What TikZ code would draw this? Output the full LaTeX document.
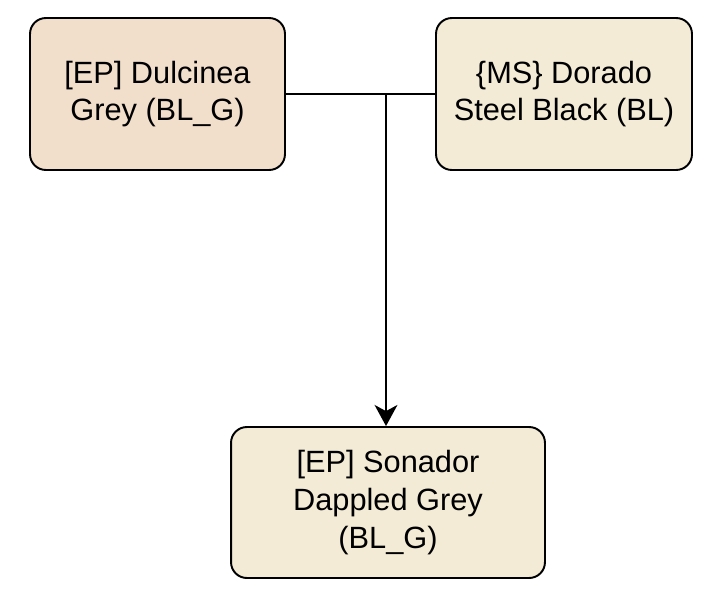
\documentclass[tikz,border=0pt]{standalone}
\usepackage{fontspec}
\setmainfont{Liberation Sans}
\usetikzlibrary{arrows.meta}

\definecolor{sireFill}{RGB}{242,223,203}
\definecolor{horseFill}{RGB}{243,235,214}

\begin{document}
\begin{tikzpicture}[x=0.02cm, y=-0.02cm,
    horse/.style={draw, line width=1.1pt, rounded corners=9pt, align=center,
      inner sep=0pt, font=\fontsize{17.5}{21.5}\selectfont},
    link/.style={line width=1.1pt}]
    \useasboundingbox (0,0) rectangle (716,601);

    % Parents
    \node[horse, fill=sireFill, minimum width=5.1cm, minimum height=3.04cm] (dulcinea) at (157.5,94) {[EP] Dulcinea\\Grey (BL\_G)};
    \node[horse, fill=horseFill, minimum width=5.12cm, minimum height=3.04cm] (dorado) at (564,94) {\{MS\} Dorado\\Steel Black (BL)};

    % Offspring
    \node[horse, fill=horseFill, minimum width=6.28cm, minimum height=3.02cm] (sonador) at (388,502.5) {[EP] Sonador\\Dappled Grey\\(BL\_G)};

    % Mating line and descent
    \coordinate (mate) at (386,94);
    \draw[link] (dulcinea.east) -- (dorado.west);
    \draw[link, -{Stealth[length=12pt, width=13pt, inset=3.5pt]}] (mate) -- (mate |- sonador.north);
\end{tikzpicture}
\end{document}
